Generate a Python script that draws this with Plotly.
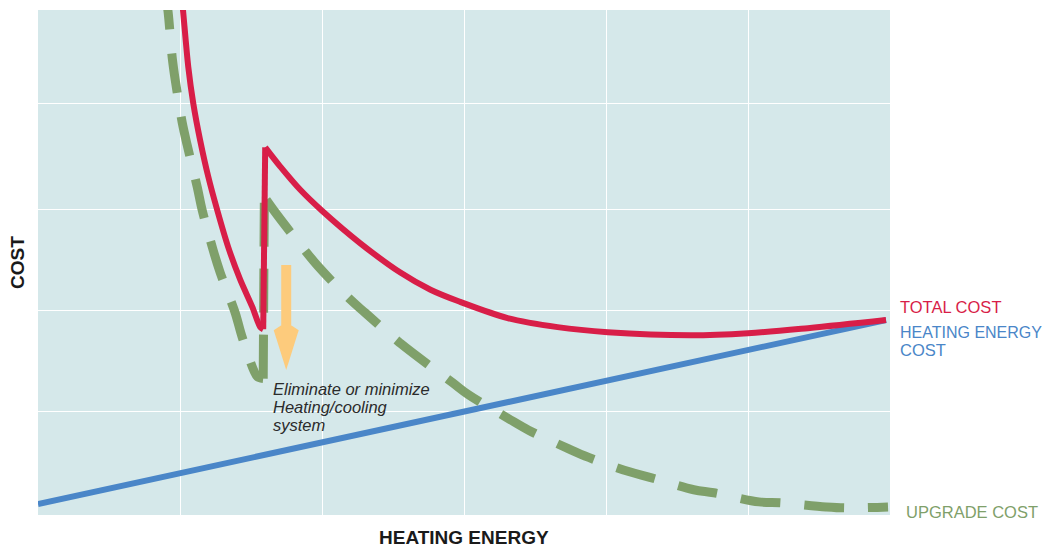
import plotly.graph_objects as go

# ---- data (x: heating energy, y: cost, arbitrary units) ----
heating_x = [0.0, 5.972]
heating_y = [0.109, 1.93]

# total cost: steep left branch, jump at the system-elimination point, right branch
total_left_x = [1.008, 1.023, 1.058, 1.093, 1.142, 1.199, 1.262, 1.340, 1.424, 1.509, 1.565, 1.586]
total_left_y = [5.20, 4.97, 4.44, 4.08, 3.71, 3.35, 3.02, 2.65, 2.33, 2.06, 1.86, 1.84]
total_jump_x = [1.586, 1.594, 1.600]
total_jump_y = [1.84, 3.63, 3.64]
total_right_x = [1.600, 1.706, 1.847, 2.002, 2.270, 2.552, 2.764, 2.973, 3.307, 3.659, 4.012, 4.597,
                 4.999, 5.422, 5.972]
total_right_y = [3.64, 3.45, 3.22, 3.01, 2.69, 2.40, 2.23, 2.11, 1.95, 1.86, 1.81, 1.78,
                 1.80, 1.85, 1.93]

upgrade_left_x = [0.895, 0.917, 0.945, 0.966, 1.015, 1.051, 1.121, 1.156, 1.234, 1.283, 1.389, 1.438,
                  1.544, 1.586]
upgrade_left_y = [5.20, 4.97, 4.53, 4.31, 3.89, 3.66, 3.25, 3.02, 2.62, 2.40, 2.00, 1.76,
                  1.37, 1.35]
upgrade_jump_x = [1.586, 1.594]
upgrade_jump_y = [1.35, 3.15]
upgrade_right_x = [1.608, 1.685, 1.868, 1.974, 2.186, 2.306, 2.552, 2.919, 3.032,
                   3.307, 3.455, 3.730, 3.878, 4.160, 4.315, 4.618, 4.759, 5.077, 5.232, 5.549, 5.704,
                   5.986]
upgrade_right_y = [3.12, 2.97, 2.64, 2.46, 2.15, 2.00, 1.70, 1.31, 1.19,
                   0.96, 0.84, 0.66, 0.57, 0.43, 0.37, 0.25, 0.22, 0.13, 0.12, 0.08, 0.07,
                   0.08]

x_grid = [1, 2, 3, 4, 5]
y_grid = [1.02, 2.02, 3.02, 4.07]

arrow_x = 1.748
arrow_top = 2.475
arrow_head = 1.83
arrow_tip = 1.436
arrow_halfwidth = 0.088

note_lines = ["Eliminate or minimize", "Heating/cooling", "system"]
note_x = 1.643
note_y = [1.247, 1.069, 0.891]

RED = "#d81e48"
BLUE = "#4a86c8"
GREEN = "#7fa06a"
ORANGE = "#fdcb7c"

fig = go.Figure()
fig.add_trace(go.Scatter(x=heating_x, y=heating_y, mode="lines",
                         line=dict(color=BLUE, width=6), hoverinfo="skip"))

green_dash = "40px,24px"
fig.add_trace(go.Scatter(x=upgrade_left_x, y=upgrade_left_y, mode="lines",
                         line=dict(color=GREEN, width=9, dash=green_dash, shape="spline", smoothing=0.8),
                         hoverinfo="skip"))
fig.add_trace(go.Scatter(x=upgrade_jump_x, y=upgrade_jump_y, mode="lines",
                         line=dict(color=GREEN, width=9, dash="44px,22px"), hoverinfo="skip"))
fig.add_trace(go.Scatter(x=upgrade_right_x, y=upgrade_right_y, mode="lines",
                         line=dict(color=GREEN, width=9, dash=green_dash, shape="spline", smoothing=1.0),
                         hoverinfo="skip"))

fig.add_trace(go.Scatter(x=total_left_x, y=total_left_y, mode="lines",
                         line=dict(color=RED, width=6, shape="spline", smoothing=0.8), hoverinfo="skip"))
fig.add_trace(go.Scatter(x=total_jump_x, y=total_jump_y, mode="lines",
                         line=dict(color=RED, width=6), hoverinfo="skip"))
fig.add_trace(go.Scatter(x=total_right_x, y=total_right_y, mode="lines",
                         line=dict(color=RED, width=6, shape="spline", smoothing=1.0), hoverinfo="skip"))

# arrow
fig.add_shape(type="line", x0=arrow_x, x1=arrow_x, y0=arrow_top, y1=arrow_head + 0.05,
              line=dict(color=ORANGE, width=10), layer="above")
fig.add_shape(type="path",
              path=f"M {arrow_x - arrow_halfwidth},{arrow_head} L {arrow_x},{arrow_head + 0.08} "
                   f"L {arrow_x + arrow_halfwidth},{arrow_head} L {arrow_x},{arrow_tip} Z",
              fillcolor=ORANGE, line=dict(width=0), layer="above")

for t, yy in zip(note_lines, note_y):
    fig.add_annotation(x=note_x, y=yy, xref="x", yref="y", text=t, showarrow=False,
                       xanchor="left", yanchor="middle",
                       font=dict(family="Liberation Sans, Arial", size=16.5, color="#2b2b2b", style="italic"))

lab_font = dict(family="Liberation Sans, Arial", size=16.5)
fig.add_annotation(x=1.0094, y=0.412, xref="paper", yref="paper", text="TOTAL COST", showarrow=False,
                   xanchor="left", yanchor="middle", font=dict(**lab_font, color=RED))
fig.add_annotation(x=1.0094, y=0.3604, xref="paper", yref="paper", text="HEATING ENERGY", showarrow=False,
                   xanchor="left", yanchor="middle",
                   font=dict(family="Liberation Sans, Arial", size=16, color=BLUE))
fig.add_annotation(x=1.0094, y=0.3267, xref="paper", yref="paper", text="COST", showarrow=False,
                   xanchor="left", yanchor="middle", font=dict(**lab_font, color=BLUE))
fig.add_annotation(x=1.0164, y=0.006, xref="paper", yref="paper", text="UPGRADE COST", showarrow=False,
                   xanchor="left", yanchor="middle", font=dict(**lab_font, color=GREEN))

title_font = dict(family="Liberation Sans, Arial", size=19, color="#1a1a1a")
fig.add_annotation(x=-0.0235, y=0.501, xref="paper", yref="paper", text="<b>COST</b>", showarrow=False,
                   textangle=-90, xanchor="center", yanchor="middle", font=title_font)
fig.add_annotation(x=0.5, y=-0.0455, xref="paper", yref="paper", text="<b>HEATING ENERGY</b>", showarrow=False,
                   xanchor="center", yanchor="middle", font=title_font)

# page body has an 8px default margin; size/margins compensate so the plot lands at the same spot
fig.update_layout(
    width=1044, height=540,
    margin=dict(l=30, r=162, t=2, b=33),
    paper_bgcolor="white", plot_bgcolor="#d5e8ea",
    showlegend=False,
    xaxis=dict(range=[0, 6], tickvals=x_grid, showticklabels=False, ticks="",
               showgrid=True, gridcolor="white", gridwidth=1, zeroline=False, showline=False, fixedrange=True),
    yaxis=dict(range=[0, 5], tickvals=y_grid, showticklabels=False, ticks="",
               showgrid=True, gridcolor="white", gridwidth=1, zeroline=False, showline=False, fixedrange=True),
)

fig.write_html("out.html")
